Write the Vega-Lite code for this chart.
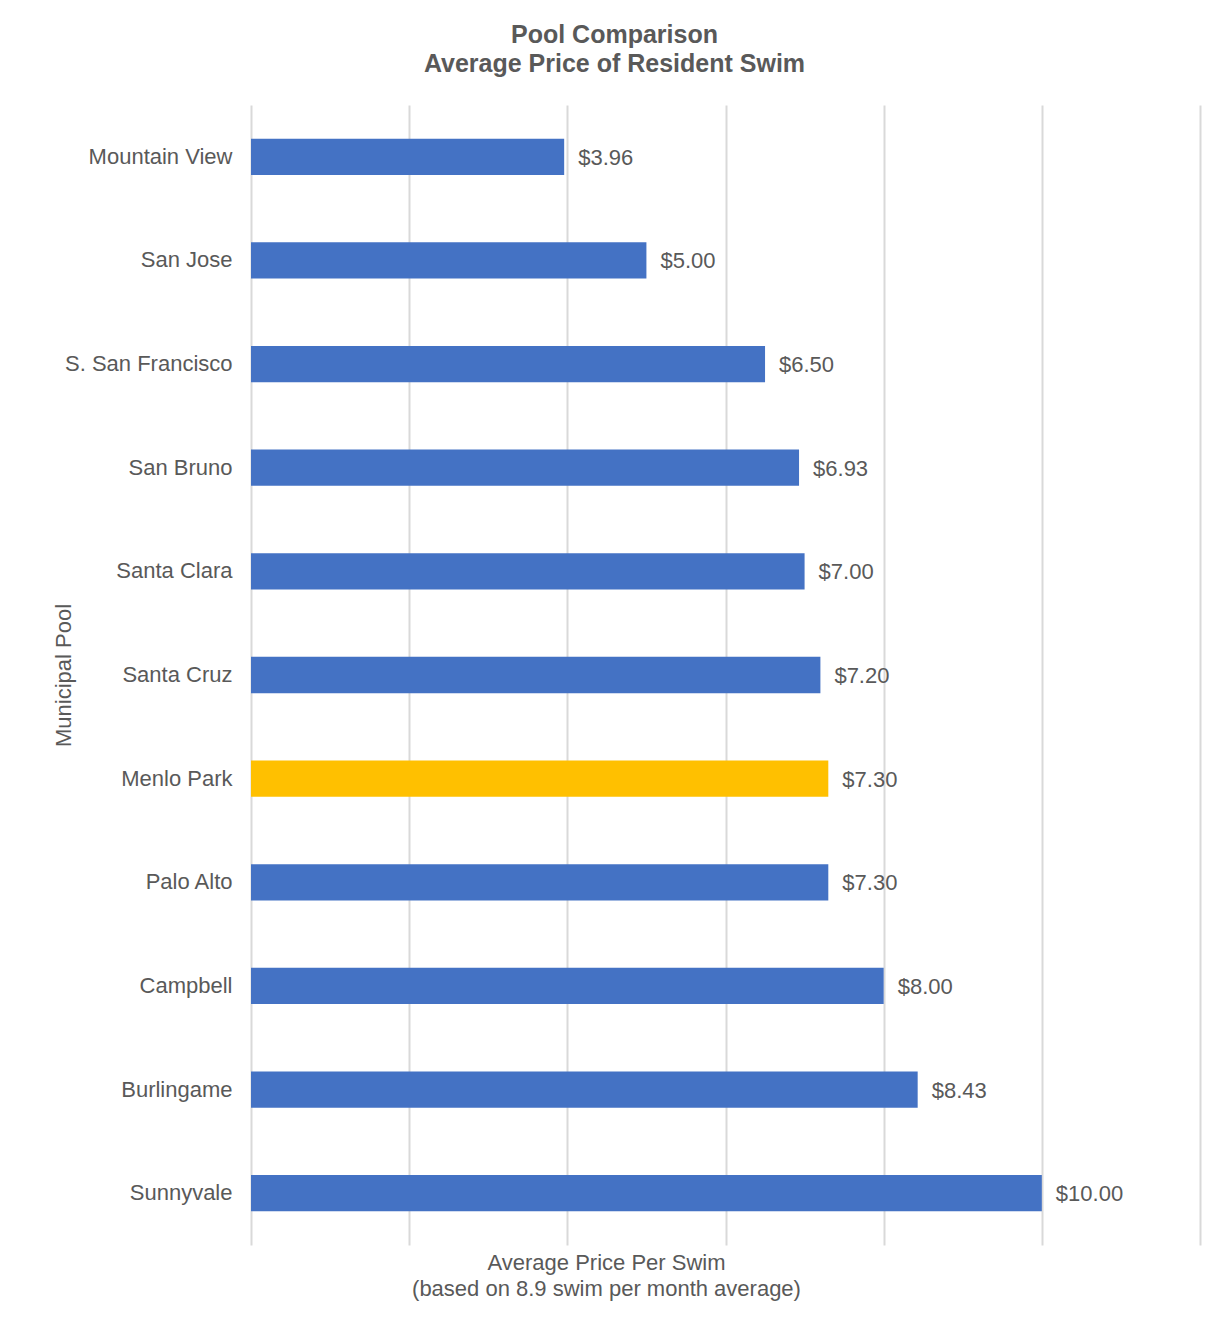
{
  "$schema": "https://vega.github.io/schema/vega-lite/v6.json",
  "autosize": {"type": "none"},
  "padding": {"left": 251, "top": 105, "right": 16, "bottom": 75},
  "width": 949,
  "height": 1140,
  "background": "white",
  "config": {
    "font": "Liberation Sans",
    "view": {"stroke": null},
    "title": {"font": "Liberation Sans"}
  },
  "title": {
    "text": ["Pool Comparison", "Average Price of Resident Swim"],
    "anchor": "middle",
    "fontSize": 25,
    "fontWeight": "bold",
    "color": "#595959",
    "lineHeight": 29,
    "offset": 28,
    "dx": -111
  },
  "data": {
    "values": [
      {"pool": "Mountain View", "price": 3.96},
      {"pool": "San Jose", "price": 5.00},
      {"pool": "S. San Francisco", "price": 6.50},
      {"pool": "San Bruno", "price": 6.93},
      {"pool": "Santa Clara", "price": 7.00},
      {"pool": "Santa Cruz", "price": 7.20},
      {"pool": "Menlo Park", "price": 7.30},
      {"pool": "Palo Alto", "price": 7.30},
      {"pool": "Campbell", "price": 8.00},
      {"pool": "Burlingame", "price": 8.43},
      {"pool": "Sunnyvale", "price": 10.00}
    ]
  },
  "encoding": {
    "y": {
      "field": "pool",
      "type": "nominal",
      "sort": null,
      "scale": {"paddingInner": 0.65, "paddingOuter": 0.325},
      "axis": {
        "title": "Municipal Pool",
        "titleFontSize": 22,
        "titleFontWeight": "normal",
        "titleColor": "#595959",
        "titleX": -188,
        "titleBaseline": "middle",
        "labelFontSize": 22,
        "labelColor": "#595959",
        "labelPadding": 19,
        "ticks": false,
        "domain": false,
        "grid": false
      }
    },
    "x": {
      "field": "price",
      "type": "quantitative",
      "scale": {"domain": [0, 12], "nice": false},
      "axis": {
        "values": [0, 2, 4, 6, 8, 10, 12],
        "labels": false,
        "ticks": false,
        "domain": false,
        "grid": true,
        "gridColor": "#d9d9d9",
        "gridWidth": 2,
        "title": ["Average Price Per Swim", "(based on 8.9 swim per month average)"],
        "titleFontSize": 22,
        "titleFontWeight": "normal",
        "titleColor": "#595959",
        "titleLineHeight": 26,
        "titleX": 355,
        "titleY": 7,
        "titleBaseline": "top"
      }
    }
  },
  "layer": [
    {
      "mark": {"type": "bar"},
      "encoding": {
        "color": {
          "condition": {"test": "datum.pool === 'Menlo Park'", "value": "#FFC000"},
          "value": "#4472C4"
        }
      }
    },
    {
      "mark": {"type": "text", "align": "left", "baseline": "middle", "dx": 14, "dy": 1, "fontSize": 22, "color": "#595959"},
      "encoding": {
        "text": {"field": "price", "type": "quantitative", "format": "$.2f"}
      }
    }
  ]
}
